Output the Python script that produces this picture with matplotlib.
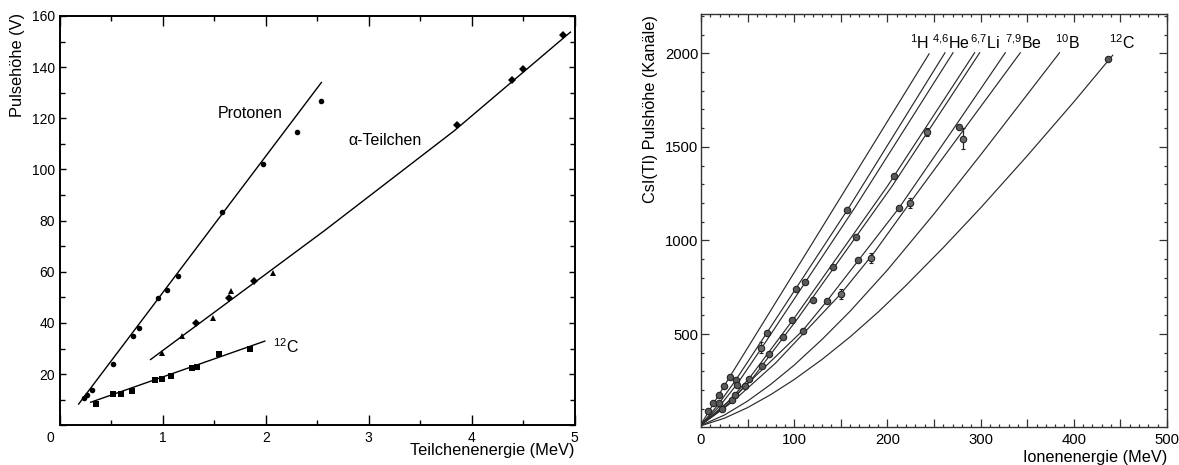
import matplotlib
matplotlib.use('Agg')
import matplotlib.pyplot as plt
from matplotlib.ticker import MultipleLocator, FuncFormatter

plt.rcParams['font.family'] = ['Liberation Sans', 'DejaVu Sans']
plt.rcParams['mathtext.fontset'] = 'custom'
plt.rcParams['mathtext.rm'] = 'Liberation Sans'
plt.rcParams['mathtext.it'] = 'Liberation Sans:italic'
plt.rcParams['mathtext.bf'] = 'Liberation Sans:bold'
plt.rcParams['mathtext.default'] = 'regular'

# ---------------- left panel data ----------------
prot_E = [0.233, 0.265, 0.314, 0.517, 0.712, 0.764, 0.955, 1.036, 1.142, 1.573, 1.974, 2.30, 2.54]
prot_V = [10.5, 11.8, 13.8, 23.9, 34.9, 38.1, 49.8, 53.0, 58.2, 83.3, 102.1, 114.6, 126.9]
prot_fit_E = [0.181, 2.54]
prot_fit_V = [8.3, 134.0]

alpha_tri_E = [0.993, 1.184, 1.49, 1.657, 2.074]
alpha_tri_V = [28.3, 34.8, 41.9, 52.4, 59.5]
alpha_dia_E = [1.32, 1.64, 1.883, 3.86, 4.39, 4.50, 4.89]
alpha_dia_V = [40.0, 49.8, 56.6, 117.3, 135.1, 139.1, 152.5]
alpha_fit_E = [0.88, 2.57, 3.83, 4.96]
alpha_fit_V = [25.7, 76.1, 115.1, 153.7]

c12_E = [0.353, 0.517, 0.589, 0.696, 0.925, 0.99, 1.078, 1.278, 1.33, 1.546, 1.85]
c12_V = [8.2, 12.1, 12.1, 13.4, 17.7, 18.0, 19.2, 22.2, 22.9, 27.7, 30.0]
c12_fit_E = [0.298, 1.99]
c12_fit_V = [9.0, 32.9]

# ---------------- right panel data ----------------
h1_E = [0, 10, 31, 120, 244.7]
h1_L = [18, 100, 273, 990, 1997]
he4_E = [0, 18, 37.5, 70.4, 101.5, 156.8, 261.8]
he4_L = [15, 120, 256, 505, 741, 1161, 2003]
he6_E = [0, 20, 39, 64.3, 111.8, 165, 270.4]
he6_L = [15, 115, 235, 420, 776, 1175, 2003]
li6_E = [0, 25, 52, 100, 200, 293.6]
li6_L = [15, 115, 265, 585, 1290, 2003]
li7_E = [0, 26, 55, 104, 205, 299]
li7_L = [15, 110, 262, 585, 1290, 2003]
be7_E = [0, 36.4, 109, 134.7, 212.5, 270, 326.5]
be7_L = [15, 170, 518, 674, 1174, 1590, 2003]
be9_E = [0, 33, 80, 150, 185, 224, 342.6]
be9_L = [15, 135, 345, 715, 930, 1200, 2003]
b10_E = [0, 25, 50, 75, 100, 130, 160, 200, 250, 300, 384.7]
b10_L = [12, 67, 142, 232, 334, 472, 622, 842, 1142, 1457, 2003]
c12r_E = [0, 25, 50, 75, 100, 130, 160, 190, 220, 260, 300, 350, 400, 441.8]
c12r_L = [10, 50, 107, 177, 257, 365, 485, 617, 760, 962, 1174, 1452, 1740, 1990]

pts_E = [7.2, 13.2, 19.3, 24.6, 31.1, 37.5, 70.4, 101.5, 156.8, 38.9, 111.8,
         19.6, 22.8, 32.9, 36.4, 47.1, 51.8, 65.7, 72.9, 88.2, 97.2, 109.0,
         120.3, 134.7, 141.1, 166.1, 168.6, 206.8, 212.5, 276.8, 436.4]
pts_L = [90, 131, 175, 223, 273, 256, 505, 741, 1161, 229, 776,
         131, 99, 149, 175, 223, 261, 327, 395, 484, 573, 518,
         683, 674, 856, 1017, 894, 1343, 1174, 1607, 1967]
err_E = [64.3, 150.4, 182.9, 224.0, 242.7, 281.1]
err_L = [428, 714, 906, 1200, 1579, 1544]
err_d = [30, 25, 25, 25, 20, 55]

iso_labels = [r'$^{1}$H', r'$^{4{,}6}$He', r'$^{6{,}7}$Li', r'$^{7{,}9}$Be', r'$^{10}$B', r'$^{12}$C']
iso_label_E = [224.7, 248.3, 288.3, 325.8, 379.4, 438.3]

fig = plt.figure(figsize=(11.79, 4.65), dpi=100)
ax1 = fig.add_axes([0.0509, 0.0854, 0.4364, 0.8802])
ax2 = fig.add_axes([0.5946, 0.0824, 0.3952, 0.8875])

# ---------------- left panel ----------------
lc = 'black'
ax1.plot(prot_fit_E, prot_fit_V, color=lc, lw=1.0)
ax1.plot(alpha_fit_E, alpha_fit_V, color=lc, lw=1.0)
ax1.plot(c12_fit_E, c12_fit_V, color=lc, lw=1.0)
ax1.plot(prot_E, prot_V, 'o', color=lc, ms=4.0, mew=0)
ax1.plot(alpha_tri_E, alpha_tri_V, '^', color=lc, ms=5.0, mew=0)
ax1.plot(alpha_dia_E, alpha_dia_V, 'D', color=lc, ms=3.8, mew=0)
ax1.plot(c12_E, c12_V, 's', color=lc, ms=3.8, mew=0)

ax1.text(1.85, 121.9, 'Protonen', fontsize=11.5, ha='center', va='center')
ax1.text(3.16, 111.5, 'α-Teilchen', fontsize=11.5, ha='center', va='center')
ax1.text(2.07, 30.6, r'$^{12}$C', fontsize=11.5, ha='left', va='center')

ax1.set_xlim(0, 5)
ax1.set_ylim(0, 160)
ax1.xaxis.set_major_locator(MultipleLocator(1))
ax1.xaxis.set_minor_locator(MultipleLocator(0.5))
ax1.yaxis.set_major_locator(MultipleLocator(20))
ax1.yaxis.set_minor_locator(MultipleLocator(10))
ax1.xaxis.set_major_formatter(FuncFormatter(lambda v, p: '' if abs(v) < 1e-9 else '%d' % round(v)))
ax1.yaxis.set_major_formatter(FuncFormatter(lambda v, p: '' if abs(v) < 1e-9 else '%d' % round(v)))
ax1.tick_params(which='both', direction='in', top=True, right=True, labelsize=10, width=1.0)
ax1.tick_params(axis='x', which='major', length=7, pad=4)
ax1.tick_params(axis='x', which='minor', length=3.5)
ax1.tick_params(axis='y', which='major', length=4.5, pad=3.5)
ax1.tick_params(axis='y', which='minor', length=3.5)
ax1.annotate('0', xy=(0, 0), xycoords='data', xytext=(-7.2, -9.4),
             textcoords='offset points', ha='center', va='center', fontsize=10)
for s in ax1.spines.values():
    s.set_linewidth(1.4)

ax1.set_xlabel('Teilchenenergie (MeV)', fontsize=11.8, loc='right')
ax1.xaxis.label.set_va('center')
ax1.xaxis.set_label_coords(1.0, -0.0604)
ax1.set_ylabel('Pulsehöhe (V)', fontsize=11.8, loc='top')
ax1.yaxis.label.set_va('center')
ax1.yaxis.set_label_coords(-0.0817, 1.007)

# ---------------- right panel ----------------
cc = '#2a2a2a'
for E, L in [(h1_E, h1_L), (he4_E, he4_L), (he6_E, he6_L), (li6_E, li6_L), (li7_E, li7_L),
             (be7_E, be7_L), (be9_E, be9_L), (b10_E, b10_L), (c12r_E, c12r_L)]:
    ax2.plot(E, L, color=cc, lw=0.85)

ax2.plot(pts_E, pts_L, 'o', ms=4.6, mfc='#5a5a5a', mec='#222222', mew=0.8)
ax2.errorbar(err_E, err_L, yerr=err_d, fmt='o', ms=4.6, mfc='#6a6a6a', mec='#222222',
             mew=0.8, ecolor='#222222', elinewidth=0.9, capsize=1.5, capthick=0.8)

for lab, x in zip(iso_labels, iso_label_E):
    ax2.text(x, 2055, lab, fontsize=11.5, ha='left', va='center')

ax2.set_xlim(0, 500)
ax2.set_ylim(5, 2210)
ax2.xaxis.set_major_locator(MultipleLocator(50))
ax2.xaxis.set_minor_locator(MultipleLocator(10))
ax2.yaxis.set_major_locator(MultipleLocator(500))
ax2.yaxis.set_minor_locator(MultipleLocator(100))
ax2.xaxis.set_major_formatter(FuncFormatter(lambda v, p: '%d' % round(v) if round(v) % 100 == 0 else ''))
ax2.yaxis.set_major_formatter(FuncFormatter(lambda v, p: '' if v < 1 else '%d' % round(v)))
ax2.tick_params(which='both', direction='in', top=True, right=True, labelsize=10.7,
                width=0.9, color='#333333')
ax2.tick_params(which='major', length=5.5)
ax2.tick_params(which='minor', length=2.5)
ax2.tick_params(axis='x', pad=4.5)
ax2.tick_params(axis='y', pad=2)
for s in ax2.spines.values():
    s.set_linewidth(1.0)
    s.set_color('#333333')

ax2.set_xlabel('Ionenenergie (MeV)', fontsize=11.7, loc='right')
ax2.xaxis.label.set_va('center')
ax2.xaxis.set_label_coords(1.0, -0.0758)
ax2.set_ylabel('CsI(Tl) Pulshöhe (Kanäle)', fontsize=11.7, loc='top')
ax2.yaxis.label.set_va('center')
ax2.yaxis.set_label_coords(-0.1094, 0.998)

fig.savefig('out.png', dpi=100)
